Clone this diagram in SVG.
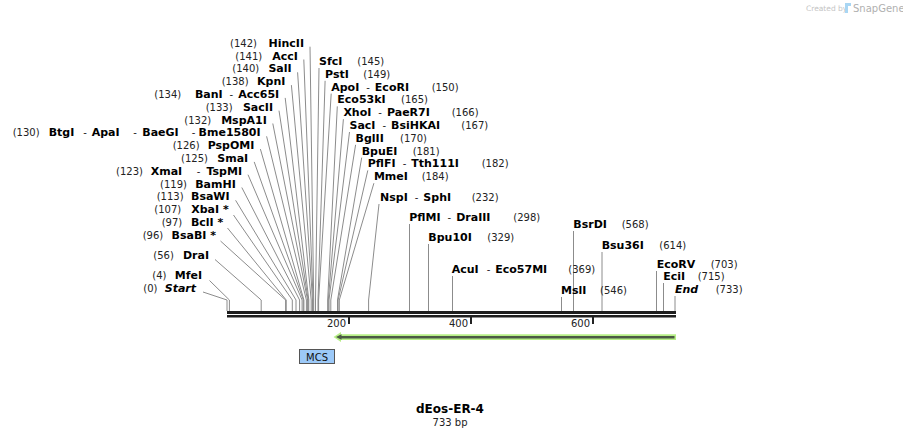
<svg xmlns="http://www.w3.org/2000/svg" width="903" height="438" viewBox="0 0 903 438">
<style>
text{font-family:"DejaVu Sans",Verdana,sans-serif}
.n{font-size:10px;fill:#222;font-weight:normal}
.b{font-size:11px;font-weight:bold;fill:#000}
.i{font-style:italic}
.e{text-anchor:end}
.ln{stroke:#8c8c8c;stroke-width:1;fill:none}
.tk{stroke:#222;stroke-width:2}
</style>
<rect width="903" height="438" fill="#fff"/>
<g id="logo">
<text x="806" y="11" style="font-size:7.5px;fill:#c4c4c4">Created by</text>
<path d="M845,3 h6 v3 h-3 v7 h-3 z" fill="#a9d6f3"/>
<text x="853" y="12" style="font-size:10px;fill:#b0b0b0">SnapGene</text>
</g>
<g id="connectors">
<polyline class="ln" points="310,46.7 313.7,300 313.7,311"/>
<polyline class="ln" points="303.8,59.5 313.1,300 313.1,311"/>
<polyline class="ln" points="297.6,72.3 312.5,300 312.5,311"/>
<polyline class="ln" points="291.4,85.1 311.2,300 311.2,311"/>
<polyline class="ln" points="285.2,97.9 308.8,300 308.8,311"/>
<polyline class="ln" points="279,110.7 308.2,300 308.2,311"/>
<polyline class="ln" points="272.8,123.5 307.6,300 307.6,311"/>
<polyline class="ln" points="266.6,136.3 306.4,300 306.4,311"/>
<polyline class="ln" points="260.4,149.1 303.9,300 303.9,311"/>
<polyline class="ln" points="254.2,161.9 303.3,300 303.3,311"/>
<polyline class="ln" points="248,174.7 302.1,300 302.1,311"/>
<polyline class="ln" points="241.8,187.5 299.6,300 299.6,311"/>
<polyline class="ln" points="235.6,200.3 296,300 296,311"/>
<polyline class="ln" points="233.5,215 292.3,300 292.3,311"/>
<polyline class="ln" points="227.5,228 286.2,300 286.2,311"/>
<polyline class="ln" points="220.5,241 285.6,300 285.6,311"/>
<polyline class="ln" points="215,259.5 261.2,300 261.2,311"/>
<polyline class="ln" points="209.5,280.5 229.4,300 229.4,311"/>
<polyline class="ln" points="203,292 227,300 227,311"/>
<polyline class="ln" points="319,68 315.5,300 315.5,311"/>
<polyline class="ln" points="325.1,80.8 318,300 318,311"/>
<polyline class="ln" points="331.2,93.6 318.6,300 318.6,311"/>
<polyline class="ln" points="337.3,106.4 327.7,300 327.7,311"/>
<polyline class="ln" points="343.4,119.2 328.3,300 328.3,311"/>
<polyline class="ln" points="349.5,132 329,300 329,311"/>
<polyline class="ln" points="355.6,144.8 330.8,300 330.8,311"/>
<polyline class="ln" points="361.7,157.6 337.5,300 337.5,311"/>
<polyline class="ln" points="367.8,170.4 338.1,300 338.1,311"/>
<polyline class="ln" points="373.9,183.2 339.3,300 339.3,311"/>
<polyline class="ln" points="379,204 368.6,300 368.6,311"/>
<line class="ln" x1="409.5" y1="224" x2="409.5" y2="311"/>
<line class="ln" x1="428.5" y1="244" x2="428.5" y2="311"/>
<line class="ln" x1="452.5" y1="276" x2="452.5" y2="311"/>
<line class="ln" x1="573.5" y1="231" x2="573.5" y2="311"/>
<line class="ln" x1="561.5" y1="297" x2="561.5" y2="311"/>
<line class="ln" x1="602" y1="252" x2="602" y2="311"/>
<line class="ln" x1="656.5" y1="271" x2="656.5" y2="311"/>
<line class="ln" x1="663.5" y1="283" x2="663.5" y2="311"/>
<line class="ln" x1="675" y1="296" x2="675" y2="311"/>
</g>
<g id="backbone">
<rect x="227" y="311" width="449" height="3" fill="#1e1e1e"/>
<rect x="227" y="315" width="449" height="2.5" fill="#1e1e1e"/>
<line class="tk" x1="349" y1="317" x2="349" y2="324"/>
<line class="tk" x1="471" y1="317" x2="471" y2="324"/>
<line class="tk" x1="593" y1="317" x2="593" y2="324"/>
<text class="n e" x="346" y="327">200</text>
<text class="n e" x="468" y="327">400</text>
<text class="n e" x="590" y="327">600</text>
</g>
<g id="feature-arrow">
<path d="M333.5,337 L341,332 L341,334.2 L676,334.2 L676,340 L341,340 L341,342 Z" fill="#b6ef86"/>
<path d="M336,337 L341.5,334.3 L341.5,336 L674.5,336 L674.5,338.6 L341.5,338.6 L341.5,339.8 Z" fill="#4b5a44"/>
</g>
<g id="mcs">
<rect x="299.5" y="349.5" width="35" height="14" fill="#9cc9f8" stroke="#555" stroke-width="1"/>
<text x="317" y="360.5" text-anchor="middle" style="font-size:10px;fill:#111">MCS</text>
</g>
<g id="HincII"><text class="n" x="230" y="46.7">(142)</text><text class="b e" x="304" y="46.7">HincII</text></g>
<g id="AccI"><text class="n" x="235.3" y="59.5">(141)</text><text class="b e" x="297.8" y="59.5">AccI</text></g>
<g id="SalI"><text class="n" x="232.3" y="72.3">(140)</text><text class="b e" x="291.6" y="72.3">SalI</text></g>
<g id="KpnI"><text class="n" x="221.7" y="85.1">(138)</text><text class="b e" x="285.4" y="85.1">KpnI</text></g>
<g id="BanI"><text class="n" x="154.3" y="97.9">(134)</text><text class="b e" x="279.2" y="97.9">BanI<tspan class="n" dx="7">-</tspan><tspan class="b" dx="5">Acc65I</tspan></text></g>
<g id="SacII"><text class="n" x="205.7" y="110.7">(133)</text><text class="b e" x="273" y="110.7">SacII</text></g>
<g id="MspA1I"><text class="n" x="184.3" y="123.5">(132)</text><text class="b e" x="266.8" y="123.5">MspA1I</text></g>
<g id="BtgI"><text class="n" x="12.7" y="136.3">(130)</text><text class="b" x="48.7" y="136.3">BtgI</text><text class="n" x="83.3" y="136.3">-</text><text class="b" x="91.7" y="136.3">ApaI</text><text class="n" x="133.3" y="136.3">-</text><text class="b" x="142.3" y="136.3">BaeGI</text><text class="n" x="191.7" y="136.3">-</text><text class="b e" x="260.6" y="136.3">Bme1580I</text></g>
<g id="PspOMI"><text class="n" x="172.7" y="149.1">(126)</text><text class="b e" x="254.4" y="149.1">PspOMI</text></g>
<g id="SmaI"><text class="n" x="181" y="161.9">(125)</text><text class="b e" x="248.2" y="161.9">SmaI</text></g>
<g id="XmaI"><text class="n" x="116" y="174.7">(123)</text><text class="b" x="150.7" y="174.7">XmaI</text><text class="n" x="196.7" y="174.7">-</text><text class="b e" x="242" y="174.7">TspMI</text></g>
<g id="BamHI"><text class="n" x="160" y="187.5">(119)</text><text class="b e" x="235.8" y="187.5">BamHI</text></g>
<g id="BsaWI"><text class="n" x="156.7" y="200.3">(113)</text><text class="b e" x="229.6" y="200.3">BsaWI</text></g>
<g id="XbaI"><text class="n" x="154.3" y="213.1">(107)</text><text class="b e" x="228.7" y="213.1">XbaI *</text></g>
<g id="BclI"><text class="n" x="161.7" y="225.9">(97)</text><text class="b e" x="223.3" y="225.9">BclI *</text></g>
<g id="BsaBI"><text class="n" x="142.7" y="238.7">(96)</text><text class="b e" x="216" y="238.7">BsaBI *</text></g>
<g id="DraI"><text class="n" x="153.3" y="258.5">(56)</text><text class="b e" x="209" y="258.5">DraI</text></g>
<g id="MfeI"><text class="n" x="152.3" y="278.5">(4)</text><text class="b e" x="202" y="278.5">MfeI</text></g>
<g id="Start"><text class="n" x="143.3" y="291.5">(0)</text><text class="b i e" x="196" y="291.5">Start</text></g>
<g id="SfcI"><text class="b" x="319" y="65">SfcI</text><text class="n" x="357.3" y="65">(145)</text></g>
<g id="PstI"><text class="b" x="325.1" y="77.8">PstI</text><text class="n" x="363.3" y="77.8">(149)</text></g>
<g id="ApoI"><text class="b" x="331.2" y="90.6">ApoI<tspan class="n" dx="7">-</tspan><tspan class="b" dx="5">EcoRI</tspan></text><text class="n" x="431.7" y="90.6">(150)</text></g>
<g id="Eco53kI"><text class="b" x="337.3" y="103.4">Eco53kI</text><text class="n" x="401" y="103.4">(165)</text></g>
<g id="XhoI"><text class="b" x="343.4" y="116.2">XhoI<tspan class="n" dx="7">-</tspan><tspan class="b" dx="5">PaeR7I</tspan></text><text class="n" x="451.7" y="116.2">(166)</text></g>
<g id="SacI"><text class="b" x="349.5" y="129">SacI<tspan class="n" dx="7">-</tspan><tspan class="b" dx="5">BsiHKAI</tspan></text><text class="n" x="461.3" y="129">(167)</text></g>
<g id="BglII"><text class="b" x="355.6" y="141.8">BglII</text><text class="n" x="400" y="141.8">(170)</text></g>
<g id="BpuEI"><text class="b" x="361.7" y="154.6">BpuEI</text><text class="n" x="412.7" y="154.6">(181)</text></g>
<g id="PflFI"><text class="b" x="367.8" y="167.4">PflFI<tspan class="n" dx="7">-</tspan><tspan class="b" dx="5">Tth111I</tspan></text><text class="n" x="481.7" y="167.4">(182)</text></g>
<g id="MmeI"><text class="b" x="373.9" y="180.2">MmeI</text><text class="n" x="421.7" y="180.2">(184)</text></g>
<g id="NspI"><text class="b" x="380" y="201">NspI<tspan class="n" dx="7">-</tspan><tspan class="b" dx="5">SphI</tspan></text><text class="n" x="471.7" y="201">(232)</text></g>
<g id="PflMI"><text class="b" x="409.3" y="221">PflMI<tspan class="n" dx="7">-</tspan><tspan class="b" dx="5">DraIII</tspan></text><text class="n" x="513.3" y="221">(298)</text></g>
<g id="Bpu10I"><text class="b" x="428.3" y="241">Bpu10I</text><text class="n" x="487.3" y="241">(329)</text></g>
<g id="AcuI"><text class="b" x="451.7" y="273">AcuI<tspan class="n" dx="8">-</tspan><tspan class="b" dx="5">Eco57MI</tspan></text><text class="n" x="568.3" y="273">(369)</text></g>
<g id="BsrDI"><text class="b" x="573.3" y="228">BsrDI</text><text class="n" x="621.7" y="228">(568)</text></g>
<g id="MslI"><text class="b" x="561" y="294">MslI</text><text class="n" x="600" y="294">(546)</text></g>
<g id="Bsu36I"><text class="b" x="601.7" y="249">Bsu36I</text><text class="n" x="659.3" y="249">(614)</text></g>
<g id="EcoRV"><text class="b" x="656.7" y="268">EcoRV</text><text class="n" x="710.7" y="268">(703)</text></g>
<g id="EciI"><text class="b" x="663.3" y="280">EciI</text><text class="n" x="697.7" y="280">(715)</text></g>
<g id="End"><text class="b i" x="675" y="293">End</text><text class="n" x="715.7" y="293">(733)</text></g>
<g id="title">
<text x="450" y="413" text-anchor="middle" style="font-size:12px;font-weight:bold;fill:#000">dEos-ER-4</text>
<text x="450" y="425.5" text-anchor="middle" style="font-size:10px;fill:#222">733 bp</text>
</g>
</svg>
